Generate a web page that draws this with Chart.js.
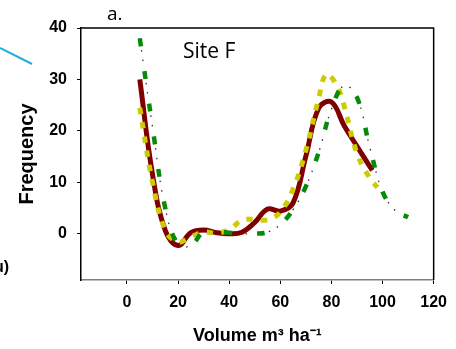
<!DOCTYPE html>
<html>
<head>
<meta charset="utf-8">
<script src="https://cdn.jsdelivr.net/npm/chart.js@4.4.1/dist/chart.umd.min.js"></script>
<style>
html, body { margin: 0; padding: 0; background: #fff; }
</style>
</head>
<body>
<canvas id="freqChart" width="456" height="349"></canvas>
<script>
// Site F - volume distribution
const xTicks = [0, 20, 40, 60, 80, 100, 120];
const yTicks = [0, 10, 20, 30, 40];

const redX = [5, 10, 15, 20, 25, 30, 35, 40, 45, 50, 55, 60, 65, 70, 75, 80, 85, 90, 96];
const redY = [30, 11.5, 0.6, -2.3, 0.2, 0.7, 0.2, 0, 0.3, 2.2, 4.8, 4.4, 6, 15.1, 24.4, 25.6, 21, 17, 12.3];

const yellowX = [5, 10, 15, 20, 25, 30, 35, 40, 45, 50, 55, 60, 65, 70, 75, 78, 82, 85, 90, 95, 98];
const yellowY = [24.5, 10, 0.7, -1.6, -0.6, 0.3, 0.1, 0.8, 2.6, 2.8, 2.7, 4.2, 8.7, 16.2, 26.3, 31, 28.9, 24.8, 15.6, 10.8, 9];

const greenX = [5, 10, 15, 20, 25, 30, 35, 40, 45, 50, 55, 60, 65, 70, 75, 80, 85, 90, 95, 100, 105, 110];
const greenY = [38, 20.7, 4.9, -2.1, -2.3, 0.4, 0.4, 0.2, 0, 0, 0.3, 1.8, 4.7, 9.2, 15.8, 24.2, 28.8, 26.5, 16.8, 8.2, 4.5, 3.2];

const pts = (xs, ys) => xs.map((x, i) => ({ x: x, y: ys[i] }));

Chart.defaults.font.family = '"Liberation Sans", Arial, sans-serif';
Chart.defaults.color = '#000';

// frame + loose labels around the plot
const decorations = {
    id: 'decorations',
    afterDraw(chart) {
        const { ctx, chartArea: a } = chart;
        ctx.save();
        ctx.strokeStyle = '#000';
        ctx.lineWidth = 1.5;
        ctx.beginPath();
        ctx.moveTo(a.left, a.top);
        ctx.lineTo(a.right, a.top);
        ctx.lineTo(a.right, a.bottom);
        ctx.stroke();

        ctx.fillStyle = '#000';
        ctx.textBaseline = 'alphabetic';
        ctx.font = '21px "Open Sans", sans-serif';
        ctx.fillText('Site F', 183, 58);
        ctx.font = '19px "Open Sans", sans-serif';
        ctx.fillText('a.', 107, 20);

        ctx.font = 'bold 16px "Liberation Sans", Arial, sans-serif';
        ctx.textAlign = 'right';
        ctx.fillText('u)', 9, 272);

        ctx.strokeStyle = '#1fb0dc';
        ctx.lineWidth = 2;
        ctx.beginPath();
        ctx.moveTo(0, 48);
        ctx.lineTo(32, 64);
        ctx.stroke();
        ctx.restore();
    }
};

const ctx = document.getElementById('freqChart').getContext('2d');
new Chart(ctx, {
    type: 'line',
    data: {
        datasets: [
            { label: 'G', data: pts(greenX, greenY), borderColor: '#088a08', borderWidth: 4.5, borderDash: [8, 25] },
            { label: 'Y', data: pts(yellowX, yellowY), borderColor: '#cccc00', borderWidth: 5, borderDash: [6.5, 8] },
            { label: 'R', data: pts(redX, redY), borderColor: '#800000', borderWidth: 5 },
            { label: 'K', data: pts(greenX, greenY), borderColor: '#333', borderWidth: 1.3, borderDash: [0, 12, 1.5, 8, 1.5, 10] }
        ]
    },
    options: {
        responsive: false,
        animation: false,
        layout: { padding: { top: 28, right: 16, bottom: 0, left: 0 } },
        elements: {
            point: { radius: 0 },
            line: { tension: 0.4, fill: false, borderCapStyle: 'butt' }
        },
        plugins: { legend: { display: false }, tooltip: { enabled: false } },
        scales: {
            x: {
                type: 'linear', min: -18, max: 120,
                afterBuildTicks: s => { s.ticks = xTicks.map(v => ({ value: v })); },
                afterFit: s => { s.height = 69; },
                grid: { drawOnChartArea: false, tickLength: 4, color: '#000' },
                border: { color: '#808080', width: 1.5 },
                ticks: { font: { size: 16, weight: 'bold' }, padding: 9, maxRotation: 0 },
                title: { display: true, text: 'Volume m³ ha⁻¹', font: { size: 18, weight: 'bold' }, padding: { top: 0, bottom: 2 } }
            },
            y: {
                type: 'linear', min: -9, max: 40,
                afterBuildTicks: s => { s.ticks = yTicks.map(v => ({ value: v })); },
                afterFit: s => { s.width = 81; },
                grid: { drawOnChartArea: false, tickLength: 4, color: '#000' },
                border: { color: '#000', width: 1.5 },
                ticks: { font: { size: 16, weight: 'bold' }, padding: 10 },
                title: { display: true, text: 'Frequency', font: { size: 20, weight: 'bold' }, padding: { top: 15 } }
            }
        }
    },
    plugins: [decorations]
});
</script>
</body>
</html>
